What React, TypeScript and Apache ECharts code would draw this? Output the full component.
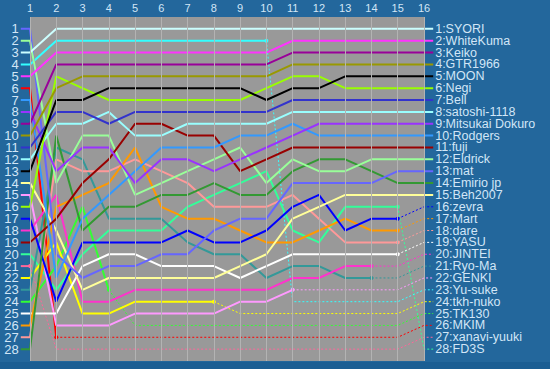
import React, { useEffect, useRef } from "react";
import * as echarts from "echarts";

const laps = [1, 2, 3, 4, 5, 6, 7, 8, 9, 10, 11, 12, 13, 14, 15, 16];
const rankTicks = [1, 2, 3, 4, 5, 6, 7, 8, 9, 10, 11, 12, 13, 14, 15, 16, 17, 18, 19, 20, 21, 22, 23, 24, 25, 26, 27, 28];

const names = [
  "SYORI", "WhiteKuma", "Keiko", "GTR1966", "MOON", "Negi", "Bell", "satoshi-1118",
  "Mitsukai Dokuro", "Rodgers", "fuji", "Eldrick", "mat", "Emirio jp", "Beh2007", "zevra",
  "Mart", "dare", "YASU", "JINTEI", "Ryo-Ma", "GENKI", "Yu-suke", "tkh-nuko", "TK130",
  "MKIM", "xanavi-yuuki", "FD3S",
];

const colors = [
  "#ccffff", "#ff33ff", "#990099", "#999900", "#000000", "#99ff00", "#3333cc", "#99ffff",
  "#9933ff", "#3399ff", "#990000", "#99ff99", "#6666ff", "#339933", "#ffff99", "#0000ff",
  "#ff9900", "#ff9999", "#ffffff", "#ff33cc", "#339999", "#ff99ff", "#33ffff", "#ffff00",
  "#33ff33", "#ff0000", "#ff6699", "#33ff99",
];

// ranks driven, lap 1 onward (solid part)
const driven: number[][] = [
  [3, 1, 1, 1, 1, 1, 1, 1, 1, 1, 1, 1, 1, 1, 1, 1],
  [5, 3, 3, 3, 3, 3, 3, 3, 3, 3, 2, 2, 2, 2, 2, 2],
  [9, 4, 4, 4, 4, 4, 4, 4, 4, 4, 3, 3, 3, 3, 3, 3],
  [10, 6, 5, 5, 5, 5, 5, 5, 5, 5, 4, 4, 4, 4, 4, 4],
  [13, 7, 7, 6, 6, 6, 6, 6, 6, 7, 6, 6, 5, 5, 5, 5],
  [16, 5, 6, 7, 7, 7, 7, 7, 7, 6, 5, 5, 6, 6, 6, 6],
  [11, 8, 8, 9, 8, 8, 8, 8, 8, 8, 7, 7, 7, 7, 7, 7],
  [12, 9, 9, 8, 10, 10, 9, 9, 9, 9, 8, 8, 8, 8, 8, 8],
  [8, 13, 11, 11, 14, 12, 12, 13, 12, 11, 10, 9, 9, 9, 9, 9],
  [7, 22, 17, 15, 13, 11, 11, 11, 10, 10, 9, 10, 10, 10, 10, 10],
  [19, 17, 14, 12, 9, 9, 10, 10, 13, 12, 11, 11, 11, 11, 11, 11],
  [2, 14, 10, 10, 15, 14, 13, 12, 11, 14, 12, 13, 13, 12, 12, 12],
  [1, 20, 22, 21, 21, 20, 20, 18, 17, 17, 14, 14, 14, 14, 13, 13],
  [28, 10, 18, 16, 16, 15, 15, 14, 15, 15, 13, 12, 12, 13, 14, 14],
  [14, 18, 23, 22, 22, 22, 22, 22, 21, 20, 17, 16, 15, 15, 15, 15],
  [17, 24, 19, 19, 19, 19, 18, 19, 19, 18, 16, 15, 18, 17, 17],
  [26, 16, 15, 14, 11, 16, 17, 17, 18, 19, 19, 18, 17, 18, 18],
  [27, 12, 13, 13, 12, 13, 14, 16, 16, 16, 15, 17, 19, 19, 19],
  [25, 25, 21, 20, 20, 21, 21, 21, 22, 21, 20, 20, 20, 20, 20],
  [18, 15, 24, 24, 23, 23, 23, 23, 23, 23, 22, 22, 21, 21],
  [23, 11, 12, 17, 17, 17, 19, 20, 20, 22, 21, 21, 22, 22],
  [15, 26, 26, 26, 25, 25, 25, 25, 24, 24, 23],
  [4, 2, 2, 2, 2, 2, 2, 2, 2, 2],
  [22, 19, 25, 25, 24, 24, 24, 24],
  [24, 21, 16, 23],
  [6, 27],
  [21],
  [20, 23, 20, 18, 18, 18, 16, 15, 14, 13, 18, 19, 16, 16, 16],
];

// classified ranks after retiring (dotted part), for the laps that follow
const classified: number[][] = [
  [], [], [], [], [], [], [], [], [], [], [], [], [], [], [],
  [16],
  [17],
  [18],
  [19],
  [21, 20],
  [22, 21],
  [23, 23, 23, 23, 22],
  [24, 24, 24, 24, 24, 23],
  [25, 25, 25, 25, 25, 25, 25, 24],
  [26, 26, 26, 26, 26, 26, 26, 26, 26, 26, 26, 25],
  [27, 27, 27, 27, 27, 27, 27, 27, 27, 27, 27, 27, 27, 26],
  [28, 28, 28, 28, 28, 28, 28, 28, 28, 28, 28, 28, 28, 28, 27],
  [28],
];

const X_MIN = 0.65;
const X_MAX = 16.35;
const TEXT = "#d2e6f7";

export default function App() {
  const ref = useRef<HTMLDivElement>(null);
  useEffect(() => {
    if (!ref.current) return;
    const chart = echarts.init(ref.current, undefined, { renderer: "svg" });
    const series: any[] = [];
    series.push({
      type: "line",
      data: [[1, 0]],
      symbol: "none",
      silent: true,
      z: 1,
      lineStyle: { opacity: 0 },
      markArea: {
        silent: true,
        itemStyle: { color: "#999999" },
        data: [[{ xAxis: 1, yAxis: 0 }, { xAxis: 16, yAxis: 29 }]],
      },
      markLine: {
        silent: true,
        symbol: ["none", "none"],
        label: { show: false },
        lineStyle: { color: "#b3b3b3", width: 1, type: "solid" },
        data: laps.map((l) => ({ xAxis: l })),
      },
    });
    const order = names.map((_, i) => i).reverse();
    order.forEach((i) => {
      const d = driven[i];
      const c = classified[i];
      if (!c.length) return;
      const k = d.length;
      const pts: number[][] = [[k, d[k - 1]]];
      c.forEach((r, j) => pts.push([k + 1 + j, r]));
      pts.push([X_MAX, c[c.length - 1]]);
      series.push({
        type: "line",
        data: pts,
        symbol: "none",
        silent: true,
        z: 2,
        lineStyle: { color: colors[i], width: 1, type: [2, 2] },
      });
    });
    order.forEach((i) => {
      const d = driven[i];
      const c = classified[i];
      const pts: any[] = [[X_MIN, d[0]]];
      d.forEach((r, j) => pts.push([j + 1, r]));
      if (!c.length) {
        pts.push([X_MAX, d[d.length - 1]]);
      } else {
        const last = pts.pop();
        pts.push({ value: last, symbol: "circle", symbolSize: 4, itemStyle: { color: colors[i] } });
      }
      series.push({
        type: "line",
        data: pts,
        symbol: "none",
        silent: true,
        z: 3,
        lineStyle: { color: colors[i], width: 2 },
      });
    });

    // category slots 0..29; ranks 1..28 sit on slots 1..28
    const leftCats = ["", ...rankTicks.map((r) => String(r)), ""];
    const rightCats = ["", ...rankTicks.map((r) => `${r}:${names[r - 1]}`), ""];
    const yBase = {
      type: "category",
      inverse: true,
      boundaryGap: false,
      axisLine: { show: false },
      axisTick: { show: false },
      splitLine: { show: false },
    };

    chart.setOption({
      animation: false,
      backgroundColor: "#23679c",
      textStyle: { fontFamily: "Liberation Sans, Arial, sans-serif" },
      grid: { left: 20.8, right: 116.8, top: 17, bottom: 8 },
      graphic: [
        {
          type: "rect",
          left: 0,
          bottom: 0,
          shape: { width: 550, height: 7 },
          style: { fill: "#1b5e93" },
          silent: true,
        },
      ],
      xAxis: {
        type: "value",
        position: "top",
        min: X_MIN,
        max: X_MAX,
        axisLine: { show: false },
        axisTick: { show: false },
        splitLine: { show: false },
        axisLabel: { customValues: laps, color: TEXT, fontSize: 11, margin: 4, showMinLabel: true, showMaxLabel: true },
      },
      yAxis: [
        {
          ...yBase,
          data: leftCats,
          axisLabel: { interval: 0, color: TEXT, fontSize: 13, margin: 2, lineHeight: 11 },
        },
        {
          ...yBase,
          position: "right",
          data: rightCats,
          axisLabel: { interval: 0, color: TEXT, fontSize: 12.5, margin: 2, lineHeight: 11 },
        },
      ],
      series,
    });
    return () => chart.dispose();
  }, []);
  return (
    <div
      ref={ref}
      style={{ position: "absolute", left: 0, top: 0, width: 550, height: 369 }}
    />
  );
}
